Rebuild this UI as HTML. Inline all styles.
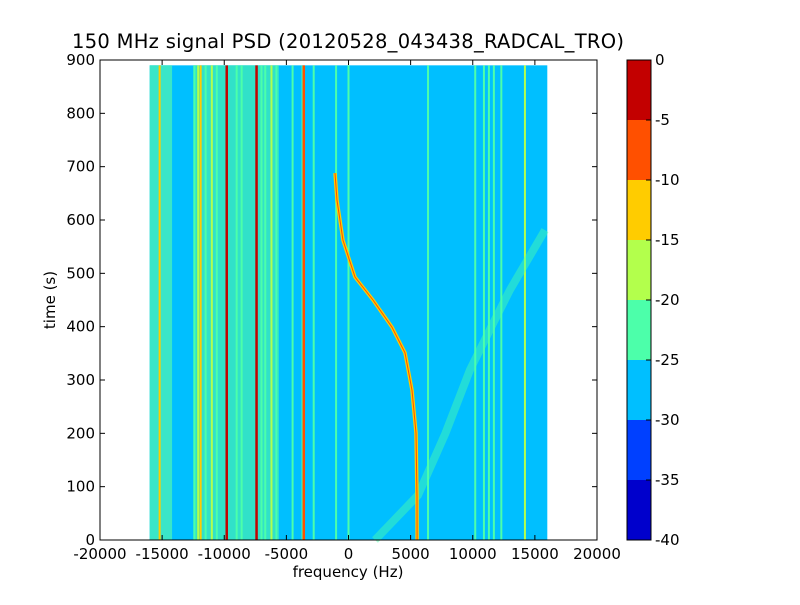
<!DOCTYPE html>
<html><head><meta charset="utf-8"><style>
body{margin:0;background:#fff;font-family:"Liberation Sans","DejaVu Sans",sans-serif}
svg text{font-family:"DejaVu Sans","Liberation Sans",sans-serif;font-size:15px}
</style></head><body>
<svg id="c" width="800" height="600">
<rect width="800" height="600" fill="#fff"/>
<text x="348" y="48" text-anchor="middle" style="font-size:19.5px" textLength="552">150 MHz signal PSD (20120528_043438_RADCAL_TRO)</text>
<g id="plot"></g>
<g id="axes"></g>
<text x="348" y="577" text-anchor="middle">frequency (Hz)</text>
<text transform="translate(55,300) rotate(-90)" text-anchor="middle">time (s)</text>
<g id="cbar"></g>
</svg>
<script>
const xTicks=[-20000,-15000,-10000,-5000,0,5000,10000,15000,20000];
const yTicks=[0,100,200,300,400,500,600,700,800,900];
const levels=[-40,-35,-30,-25,-20,-15,-10,-5,0];
const levelColors=['#0000cc','#0040ff','#00bfff','#4cffaa','#b3ff4c','#ffcc00','#ff5000','#c30000'];
// vertical spectral lines: frequency (Hz) and level index
const lineFreqs=[-15200,-12400,-12100,-11900,-11500,-11000,-10600,-9800,-9000,-8600,-7400,-7000,-6700,-6200,-5800,-4500,-3700,-3600,-2800,-1000,0,6400,10200,10900,11300,11700,12300,14200];
const lineLevels=[5,3,4,5,3,4,3,7,3,3,7,3,3,4,3,3,3,6,3,3,3,3,3,3,3,3,3,4];
const curveTimes=[688,637,562,493,450,399,351,281,201,81,0];
const curveFreqs=[-1086,-925,-443,523,1972,3501,4547,5110,5432,5513,5520];
const noiseTimes=[0,84,200,319,400,469,581];
const noiseFreqs=[2133,5593,7800,9778,11500,12997,15814];
const X0=100,X1=597,Y0=540,Y1=60;
const sx=f=>X0+(f+20000)/40000*(X1-X0);
const sy=t=>Y0-t/900*(Y0-Y1);
const NS='http://www.w3.org/2000/svg';
function mk(tag,attrs,parent){const e=document.createElementNS(NS,tag);for(const k in attrs)e.setAttribute(k,attrs[k]);parent.appendChild(e);return e;}
const plot=document.getElementById('plot');
let bg=mk('rect',{x:sx(-16000),y:sy(890),width:sx(16000)-sx(-16000),height:sy(0)-sy(890),fill:levelColors[2]},plot);


let band=mk('rect',{x:sx(-16000),y:sy(890),width:sx(-14200)-sx(-16000),height:sy(0)-sy(890),fill:'#3ae6c8'},plot);


let band2=mk('rect',{x:sx(-12500),y:sy(890),width:sx(-5600)-sx(-12500),height:sy(0)-sy(890),fill:'#3ae6c0',opacity:0.85},plot);


lineFreqs.forEach((f,i)=>{
  const lv=lineLevels[i];
  const l=mk('line',{x1:sx(f),x2:sx(f),y1:sy(890),y2:sy(0),stroke:levelColors[lv],'stroke-width':lv>=6?2.5:2},plot);
  
  
});
let np=noiseTimes.map((t,i)=>sx(noiseFreqs[i])+','+sy(t)).join(' ');
let nl=mk('polyline',{points:np,fill:'none',stroke:levelColors[3],'stroke-width':8,opacity:0.45},plot);


let cp=curveTimes.map((t,i)=>sx(curveFreqs[i])+','+sy(t)).join(' ');
let c1=mk('polyline',{points:cp,fill:'none',stroke:levelColors[5],'stroke-width':3.5},plot);


let c2=mk('polyline',{points:cp,fill:'none',stroke:levelColors[6],'stroke-width':1},plot);


const axes=document.getElementById('axes');
let fr=mk('rect',{x:X0,y:Y1,width:X1-X0,height:Y0-Y1,fill:'none',stroke:'#000','stroke-width':1},axes);


xTicks.forEach(v=>{
  const x=sx(v);
  mk('line',{x1:x,x2:x,y1:Y0,y2:Y0-5,stroke:'#000'},axes);
  mk('line',{x1:x,x2:x,y1:Y1,y2:Y1+5,stroke:'#000'},axes);
  const t=mk('text',{x:x,y:Y0+19,'text-anchor':'middle'},axes);t.textContent=v;
  
  
});
yTicks.forEach(v=>{
  const y=sy(v);
  mk('line',{x1:X0,x2:X0+5,y1:y,y2:y,stroke:'#000'},axes);
  mk('line',{x1:X1,x2:X1-5,y1:y,y2:y,stroke:'#000'},axes);
  const t=mk('text',{x:X0-5,y:y+5,'text-anchor':'end'},axes);t.textContent=v;
  
  
});
const cb=document.getElementById('cbar');
const CX=627,CW=24,n=levelColors.length,h=(Y0-Y1)/n;
levelColors.forEach((col,i)=>{
  const r=mk('rect',{x:CX,y:Y0-(i+1)*h,width:CW,height:h,fill:col},cb);
  
  
});
mk('rect',{x:CX,y:Y1,width:CW,height:Y0-Y1,fill:'none',stroke:'#000'},cb);
levels.forEach((v,i)=>{
  const y=Y0-i*h;
  mk('line',{x1:CX+CW,x2:CX+CW-5,y1:y,y2:y,stroke:'#000'},cb);
  const t=mk('text',{x:CX+CW+4,y:y+5},cb);t.textContent=v;
  
  
});
</script>
</body></html>
